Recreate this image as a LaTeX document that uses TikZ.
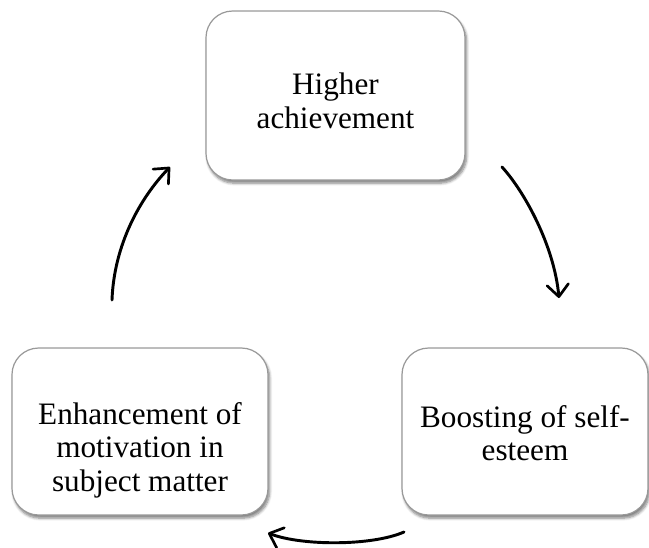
\documentclass[tikz,border=0pt]{standalone}
\usepackage{fontspec}
\setmainfont{Liberation Serif}
\usetikzlibrary{arrows.meta,shadows.blur}

\tikzset{
  cyclebox/.style={
    draw=black!40, line width=0.9pt, fill=white,
    rounded corners=20pt,
    blur shadow={shadow xshift=1.2pt, shadow yshift=-2.4pt,
                 shadow blur radius=2pt, shadow blur steps=6,
                 shadow opacity=50},
    inner sep=0pt, outer sep=0pt
  },
  boxtext/.style={
    align=center, inner sep=0pt,
    font=\fontsize{23.4pt}{25pt}\selectfont
  },
  cyclearrow/.style={
    line width=2.2pt, line cap=round,
    -{Straight Barb[length=9pt,width=16pt,line width=2pt,round]}
  }
}

\begin{document}
\begin{tikzpicture}[x=0.75pt,y=-0.75pt]
  \useasboundingbox (0,0) rectangle (649,547);

  % the three stages of the cycle
  \node[cyclebox, minimum width=259*0.75pt, minimum height=169*0.75pt]
    (top) at (335.5,95.5) {};
  \node[cyclebox, minimum width=256*0.75pt, minimum height=167*0.75pt]
    (left) at (140,431.5) {};
  \node[cyclebox, minimum width=246*0.75pt, minimum height=167*0.75pt]
    (right) at (525,431.5) {};

  % their texts
  \node[boxtext] (toptext) at ([yshift=-4pt]top.center) {Higher\\achievement};
  \node[boxtext] (lefttext) at ([yshift=-14pt]left.center)
    {Enhancement of\\motivation in\\subject matter};
  \node[boxtext] (righttext) at ([yshift=-1pt]right.center) {Boosting of self-\\esteem};

  % free-standing curved arrows between the stages
  \coordinate (a1s) at (502,167);
  \coordinate (a1e) at (559,298);
  \coordinate (a2s) at (404,532);
  \coordinate (a2e) at (268,533);
  \coordinate (a3s) at (112,300);
  \coordinate (a3e) at (170,167);

  \draw[cyclearrow] (a1s) .. controls (524,191) and (554,245) .. (a1e);
  \draw[cyclearrow] (a2s) .. controls (372,546) and (302,546) .. (a2e);
  \draw[cyclearrow] (a3s) .. controls (114,245) and (140,198) .. (a3e);
\end{tikzpicture}
\end{document}
